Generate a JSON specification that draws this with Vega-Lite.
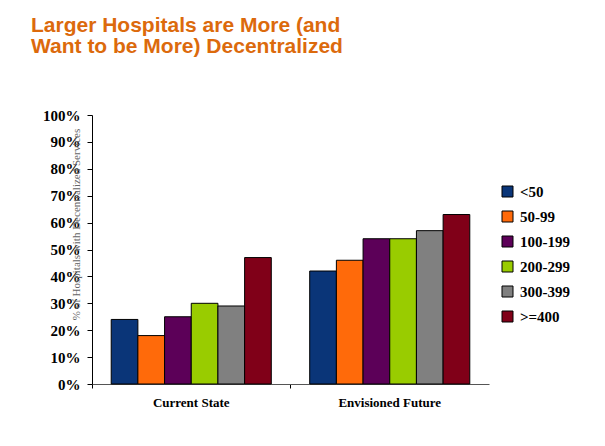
{
  "$schema": "https://vega.github.io/schema/vega-lite/v6.json",
  "width": 397,
  "height": 269,
  "autosize": {"type": "none"},
  "padding": {"left": 92, "top": 115, "right": 116, "bottom": 62},
  "background": "white",
  "title": {
    "text": ["Larger Hospitals are More (and", "Want to be More) Decentralized"],
    "anchor": "start",
    "frame": "group",
    "dx": -61,
    "offset": 51,
    "font": "Liberation Sans",
    "fontSize": 21,
    "fontWeight": "bold",
    "color": "#dc6a0c",
    "lineHeight": 21
  },
  "data": {
    "values": [
      {"state": "Current State", "size": "<50", "pct": 24},
      {"state": "Current State", "size": "50-99", "pct": 18},
      {"state": "Current State", "size": "100-199", "pct": 25},
      {"state": "Current State", "size": "200-299", "pct": 30},
      {"state": "Current State", "size": "300-399", "pct": 29},
      {"state": "Current State", "size": ">=400", "pct": 47},
      {"state": "Envisioned Future", "size": "<50", "pct": 42},
      {"state": "Envisioned Future", "size": "50-99", "pct": 46},
      {"state": "Envisioned Future", "size": "100-199", "pct": 54},
      {"state": "Envisioned Future", "size": "200-299", "pct": 54},
      {"state": "Envisioned Future", "size": "300-399", "pct": 57},
      {"state": "Envisioned Future", "size": ">=400", "pct": 63}
    ]
  },
  "mark": {"type": "bar", "stroke": "black", "strokeWidth": 1},
  "encoding": {
    "x": {
      "field": "state",
      "type": "nominal",
      "sort": null,
      "scale": {"paddingInner": 0, "paddingOuter": 0},
      "axis": {
        "title": null,
        "labelAngle": 0,
        "labelFont": "Liberation Serif",
        "labelFontSize": 13,
        "labelFontWeight": "bold",
        "labelColor": "black",
        "labelPadding": 8,
        "domainColor": "#555",
        "tickColor": "black",
        "bandPosition": 0,
        "tickSize": 4
      }
    },
    "xOffset": {
      "field": "size",
      "sort": ["<50", "50-99", "100-199", "200-299", "300-399", ">=400"],
      "scale": {"paddingInner": 0, "paddingOuter": 0.72}
    },
    "y": {
      "field": "pct",
      "type": "quantitative",
      "scale": {"domain": [0, 100], "nice": false},
      "axis": {
        "title": "% of Hospitals with Decentralized Services",
        "titleFont": "Liberation Serif",
        "titleFontSize": 11,
        "titleFontWeight": "normal",
        "titleColor": "#666",
        "titleX": -16,
        "titleY": 109,
        "titleAngle": -90,
        "titleAlign": "center",
        "titleBaseline": "middle",
        "values": [0, 10, 20, 30, 40, 50, 60, 70, 80, 90, 100],
        "labelExpr": "datum.value + '%'",
        "labelFont": "Liberation Serif",
        "labelFontSize": 15,
        "labelFontWeight": "bold",
        "labelColor": "black",
        "labelPadding": 7,
        "tickSize": 5,
        "tickColor": "black",
        "domainColor": "black",
        "grid": false
      }
    },
    "color": {
      "field": "size",
      "type": "nominal",
      "sort": ["<50", "50-99", "100-199", "200-299", "300-399", ">=400"],
      "scale": {
        "domain": ["<50", "50-99", "100-199", "200-299", "300-399", ">=400"],
        "range": ["#0a3578", "#ff6a0a", "#5c0058", "#99cc00", "#808080", "#800018"]
      },
      "legend": {
        "title": null,
        "orient": "none",
        "legendX": 408,
        "legendY": 69,
        "padding": 0,
        "symbolType": "square",
        "symbolSize": 121,
        "symbolStrokeColor": "black",
        "symbolStrokeWidth": 1,
        "labelFont": "Liberation Serif",
        "labelFontSize": 15,
        "labelFontWeight": "bold",
        "labelColor": "black",
        "labelOffset": 5,
        "rowPadding": 9
      }
    }
  },
  "config": {"view": {"stroke": null}}
}
